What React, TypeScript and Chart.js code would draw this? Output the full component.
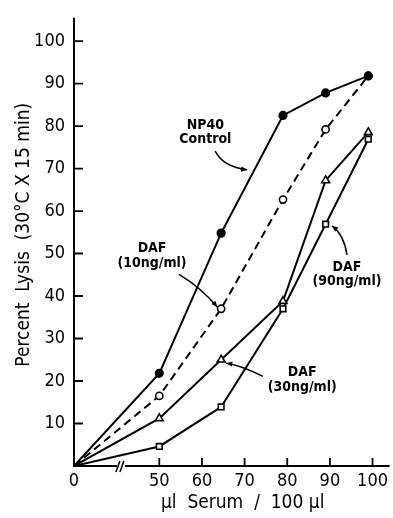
import React, { useEffect, useRef } from "react";
import { Chart, registerables } from "chart.js";

Chart.register(...registerables);

// ---- data ----
const serumVolume = [0, 50, 64.5, 79, 89, 99];
const np40Control = [0, 21.8, 54.8, 82.5, 87.8, 91.8];
const daf10 = [0, 16.5, 37, 62.7, 79.2, 91.8];
const daf30 = [0, 11.2, 25, 38.8, 67.2, 78.5];
const daf90 = [0, 4.6, 13.9, 37, 56.9, 76.9];

const xTickValues = [0, 50, 60, 70, 80, 90, 100];
const yTickValues = [10, 20, 30, 40, 50, 60, 70, 80, 90, 100];

const seriesNames = ["NP40 Control", "DAF (10ng/ml)", "DAF (30ng/ml)", "DAF (90ng/ml)"];

// annotations (in axis units: broken x-axis units, percent)
const annotationLines = [
  ["NP40", "Control"],
  ["DAF", "(10ng/ml)"],
  ["DAF", "(30ng/ml)"],
  ["DAF", "(90ng/ml)"],
];
const annotationAt = [
  [60.8, 78.5],
  [48.3, 49.5],
  [83.5, 20.3],
  [94.0, 45.1],
];
const arrowPaths = [
  [[63.1, 74.1], [65.0, 70.4], [70.6, 69.7]],
  [[54.6, 45.1], [59.7, 42.1], [63.6, 37.4]],
  [[74.3, 21.1], [69.2, 23.7], [65.7, 24.2]],
  [[94.0, 49.7], [93.3, 54.4], [90.5, 56.5]],
];

// broken x axis: 0 is drawn at axis unit 30, 50..100 drawn as is
const AXIS_ZERO = 30;
const BREAK_AT = 41;
function toAxisX(x: number): number {
  return x >= 50 ? x : AXIS_ZERO + (x / 50) * (50 - AXIS_ZERO);
}

const FONT = "'DejaVu Sans Condensed', 'Liberation Sans', sans-serif";

const axesPlugin = {
  id: "paperAxes",
  beforeDatasetsDraw(chart: any) {
    const ctx = chart.ctx;
    const xs = chart.scales.x;
    const ys = chart.scales.y;
    const x0 = xs.getPixelForValue(AXIS_ZERO);
    const y0 = ys.getPixelForValue(0);
    const top = chart.chartArea.top;
    const right = chart.chartArea.right;
    const bx = xs.getPixelForValue(BREAK_AT);
    ctx.save();
    ctx.strokeStyle = "#000";
    ctx.lineWidth = 2;
    ctx.lineCap = "butt";
    ctx.beginPath();
    // y axis
    ctx.moveTo(x0, y0 + 1);
    ctx.lineTo(x0, top - 2);
    // x axis with break
    ctx.moveTo(x0 - 1, y0);
    ctx.lineTo(bx - 4, y0);
    ctx.moveTo(bx + 4, y0);
    ctx.lineTo(right, y0);
    ctx.stroke();
    // break slashes
    ctx.lineWidth = 1.6;
    ctx.beginPath();
    ctx.moveTo(bx - 5, y0 + 6);
    ctx.lineTo(bx - 1, y0 - 5);
    ctx.moveTo(bx - 1, y0 + 6);
    ctx.lineTo(bx + 3, y0 - 5);
    ctx.stroke();
    // inward ticks
    ctx.lineWidth = 1.8;
    ctx.beginPath();
    yTickValues.forEach((v) => {
      const py = ys.getPixelForValue(v);
      ctx.moveTo(x0, py);
      ctx.lineTo(x0 + 9, py);
    });
    xTickValues.forEach((v) => {
      if (v === 0) return;
      const px = xs.getPixelForValue(toAxisX(v));
      ctx.moveTo(px, y0);
      ctx.lineTo(px, y0 - 8);
    });
    ctx.stroke();
    ctx.restore();
  },
  afterDraw(chart: any) {
    const ctx = chart.ctx;
    const xs = chart.scales.x;
    const ys = chart.scales.y;
    const P = (p: number[]) => [xs.getPixelForValue(p[0]), ys.getPixelForValue(p[1])];
    ctx.save();
    ctx.fillStyle = "#000";
    ctx.strokeStyle = "#000";
    ctx.font = "bold 14px " + FONT;
    ctx.textAlign = "center";
    ctx.textBaseline = "middle";
    annotationLines.forEach((lines, i) => {
      const [cx, cy] = P(annotationAt[i]);
      lines.forEach((t, j) => {
        ctx.fillText(t, cx, cy + (j - (lines.length - 1) / 2) * 14.5);
      });
    });
    arrowPaths.forEach((path) => {
      const [sx, sy] = P(path[0]);
      const [qx, qy] = P(path[1]);
      const [ex, ey] = P(path[2]);
      ctx.lineWidth = 1.5;
      ctx.beginPath();
      ctx.moveTo(sx, sy);
      ctx.quadraticCurveTo(qx, qy, ex, ey);
      ctx.stroke();
      const ang = Math.atan2(ey - qy, ex - qx);
      const L = 6;
      const W = 2.6;
      ctx.beginPath();
      ctx.moveTo(ex, ey);
      ctx.lineTo(ex - L * Math.cos(ang) + W * Math.sin(ang), ey - L * Math.sin(ang) - W * Math.cos(ang));
      ctx.lineTo(ex - L * Math.cos(ang) - W * Math.sin(ang), ey - L * Math.sin(ang) + W * Math.cos(ang));
      ctx.closePath();
      ctx.fill();
    });
    ctx.restore();
  },
};

function pts(values: number[]) {
  return values.map((v, i) => ({ x: toAxisX(serumVolume[i]), y: v }));
}
function radii(r: number) {
  return serumVolume.map((x) => (x === 0 ? 0 : r));
}

export default function App() {
  const ref = useRef<HTMLCanvasElement | null>(null);
  useEffect(() => {
    if (!ref.current) return;
    const common = {
      borderColor: "#000",
      borderWidth: 2,
      pointBorderColor: "#000",
      pointBorderWidth: 1.6,
      tension: 0,
      fill: false,
    };
    const chart = new Chart(ref.current, {
      type: "line",
      data: {
        datasets: [
          {
            ...common,
            label: seriesNames[0],
            data: pts(np40Control),
            pointStyle: "circle",
            pointRadius: radii(3.8),
            pointBackgroundColor: "#000",
          },
          {
            ...common,
            label: seriesNames[1],
            data: pts(daf10),
            borderDash: [8, 5],
            pointStyle: "circle",
            pointRadius: radii(3.6),
            pointBackgroundColor: "#fff",
          },
          {
            ...common,
            label: seriesNames[2],
            data: pts(daf30),
            pointStyle: "triangle",
            pointRadius: radii(4.5),
            pointBackgroundColor: "#fff",
          },
          {
            ...common,
            label: seriesNames[3],
            data: pts(daf90),
            pointStyle: "rect",
            pointRadius: radii(4),
            pointBackgroundColor: "#fff",
          },
        ],
      },
      options: {
        animation: false,
        responsive: false,
        devicePixelRatio: 1,
        layout: { padding: { top: 14, right: 0, bottom: 0, left: 0 }, autoPadding: false },
        plugins: { legend: { display: false }, tooltip: { enabled: false } },
        scales: {
          x: {
            type: "linear",
            min: AXIS_ZERO,
            max: 104,
            grid: { display: false, drawTicks: false },
            border: { display: false },
            afterBuildTicks: (s: any) => {
              s.ticks = xTickValues.map((v) => ({ value: toAxisX(v) }));
            },
            afterFit: (s: any) => {
              s.height = 52;
            },
            ticks: {
              color: "#000",
              font: { family: FONT, size: 18 },
              padding: 5,
              maxRotation: 0,
              autoSkip: false,
              callback: (value: any) => {
                const i = xTickValues.findIndex((v) => toAxisX(v) === Number(value));
                return i >= 0 ? String(xTickValues[i]) : "";
              },
            },
            title: {
              display: true,
              text: "    \u03bcl  Serum  /  100 \u03bcl",
              color: "#000",
              font: { family: FONT, size: 19 },
              padding: { top: 0, bottom: 4 },
            },
          },
          y: {
            type: "linear",
            min: 0,
            max: 105,
            grid: { display: false, drawTicks: false },
            border: { display: false },
            afterBuildTicks: (s: any) => {
              s.ticks = yTickValues.map((v) => ({ value: v }));
            },
            afterFit: (s: any) => {
              s.width = 74;
            },
            ticks: {
              color: "#000",
              font: { family: FONT, size: 18 },
              padding: 9,
              autoSkip: false,
              callback: (value: any) => String(value),
            },
            title: {
              display: true,
              text: "   Percent  Lysis  (30\u00b0C X 15 min)",
              color: "#000",
              font: { family: FONT, size: 19 },
              padding: { top: 13, bottom: 0 },
            },
          },
        },
      },
      plugins: [axesPlugin],
    } as any);
    return () => chart.destroy();
  }, []);
  return (
    <div style={{ position: "absolute", left: 0, top: 0, width: 393, height: 518, background: "#fff" }}>
      <canvas ref={ref} width={393} height={518} style={{ display: "block" }} />
    </div>
  );
}
